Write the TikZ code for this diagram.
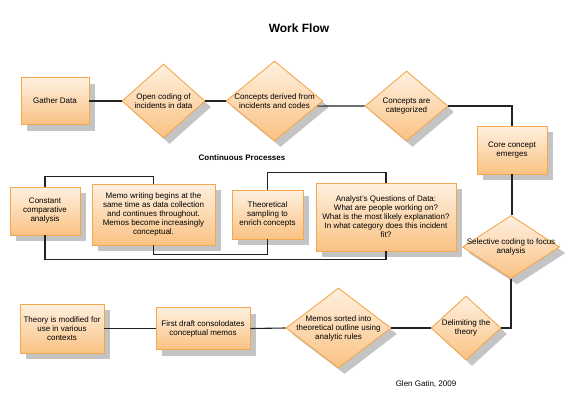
\documentclass[tikz,border=0pt]{standalone}
\usepackage{fontspec}
\setmainfont{Liberation Sans}
\usetikzlibrary{shapes.geometric,shadows,calc}
\definecolor{fillTop}{HTML}{FEF0E0}
\definecolor{fillBot}{HTML}{FAC283}
\definecolor{edgeOr}{HTML}{F2A84E}
\definecolor{shadowGr}{HTML}{C4C4C4}
\definecolor{lineK}{HTML}{222222}
\tikzset{
  base/.style={draw=edgeOr, line width=0.9pt, top color=fillTop, bottom color=fillBot,
    drop shadow={shadow xshift=6pt, shadow yshift=-6pt, fill=shadowGr, opacity=1}},
  boxnode/.style={base, rectangle, inner sep=0pt, align=center, font=\fontsize{8}{9}\selectfont},
  dia/.style={base, diamond, inner sep=0pt},
  txt/.style={align=center, font=\fontsize{8}{9}\selectfont, inner sep=0pt},
  conn/.style={draw=lineK, line width=1.1pt},
}
\begin{document}
\begin{tikzpicture}[x=1pt, y=-1pt]
\useasboundingbox (0,0) rectangle (572,415);
\node[font=\bfseries\fontsize{12}{14}\selectfont] (title) at (299,28) {Work Flow};
\node[font=\bfseries\fontsize{8}{9}\selectfont] (cp) at (242,158) {Continuous Processes};
\node[font=\fontsize{8}{9}\selectfont] (author) at (426,384) {Glen Gatin, 2009};

% main flow
\node[boxnode, minimum width=68pt, minimum height=47pt] (gather) at (55,101) {Gather Data};
\node[dia, minimum width=83pt, minimum height=74pt, label={[txt]center:{Open coding of\\incidents in data}}] (open) at (163.5,101) {};
\node[dia, minimum width=97pt, minimum height=80pt, label={[txt]center:{Concepts derived from\\incidents and codes}}] (derived) at (274.5,101) {};
\node[dia, minimum width=83pt, minimum height=70pt, label={[txt]center:{Concepts are\\categorized}}] (cat) at (406.5,106) {};
\node[boxnode, minimum width=70pt, minimum height=48pt] (core) at (512,150) {Core concept\\emerges};
\node[dia, minimum width=97pt, minimum height=63pt, label={[txt]center:{Selective coding to focus\\analysis}}] (sel) at (511,247) {};
\node[dia, minimum width=70pt, minimum height=64pt, label={[txt]center:{Delimiting the\\theory}}] (delim) at (466,328) {};
\node[dia, minimum width=105pt, minimum height=80pt, label={[txt]center:{Memos sorted into\\theoretical outline using\\analytic rules}}] (sorted) at (338.5,328) {};
\node[boxnode, minimum width=94pt, minimum height=42pt] (draft) at (203,328.5) {First draft consolodates\\conceptual memos};
\node[boxnode, minimum width=84pt, minimum height=49pt] (theory) at (62,328.5) {Theory is modified for\\use in various\\contexts};

% continuous processes
\node[boxnode, minimum width=70pt, minimum height=48pt] (cca) at (45,211) {Constant\\comparative\\analysis};
\node[boxnode, minimum width=123pt, minimum height=61pt] (memo) at (153.5,214.5) {Memo writing begins at the\\same time as data collection\\and continues throughout.\\Memos become increasingly\\conceptual.};
\node[boxnode, minimum width=71pt, minimum height=49pt] (ts) at (267.5,214.5) {Theoretical\\sampling to\\enrich concepts};
\node[boxnode, minimum width=140pt, minimum height=68pt] (aq) at (386,217) {Analyst's Questions of Data:\\What are people working on?\\What is the most likely explanation?\\In what category does this incident\\fit?};

% connectors
\draw[conn] (gather.east) -- (open.west);
\draw[conn] (open.east) -- (derived.west);
\draw[conn] ($(derived.east)!0.125!(derived.south)$) -- (cat.west);
\draw[conn] (cat.east) -| (core.north);
\draw[conn] (core.south) -- (core.south |- sel.north);
\draw[conn] (sel.south) |- (delim.east);
\draw[conn] (delim.west) -- (sorted.east);
\draw[conn] (sorted.west) -- (draft.east);
\draw[conn] (draft.west) -- (theory.east);

\draw[conn] (cca.north) -- ++(0,-10) -| (memo.north);
\draw[conn] (cca.south) -- ++(0,24) -| (aq.south);
\draw[conn] (memo.south) -- ++(0,9) -| (ts.south);
\draw[conn] (ts.north) -- ++(0,-17) -| (aq.north);
\end{tikzpicture}
\end{document}
